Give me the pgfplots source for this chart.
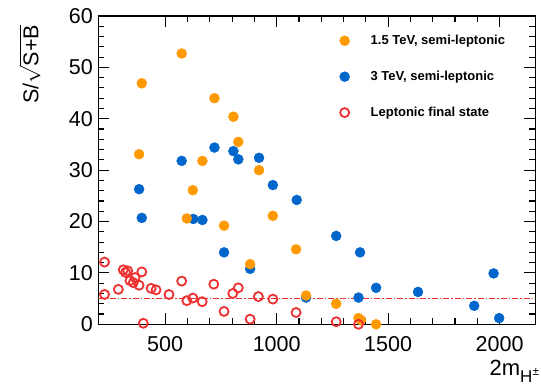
\documentclass[border=0pt]{standalone}
\usepackage{fontspec}
\setmainfont{Liberation Sans}
\usepackage{pgfplots}
\pgfplotsset{compat=1.18}
\definecolor{orng}{RGB}{255,153,0}
\definecolor{blu}{RGB}{0,102,204}
\definecolor{rd}{RGB}{238,48,48}
\begin{document}
\begin{tikzpicture}
\useasboundingbox (-98.3pt,-62.7pt) rectangle (442.7pt,324.3pt);
\begin{axis}[at={(0,0)}, anchor=south west, scale only axis,
  width=437pt, height=308.3pt,
  xmin=200, xmax=2160, ymin=0, ymax=60,
  xtick={500,1000,1500,2000}, minor x tick num=4,
  ytick={0,10,...,60}, minor y tick num=4,
  tick align=inside, major tick length=11pt, minor tick length=6pt,
  axis line style={line width=1.4pt}, every tick/.style={black, line width=1.1pt},
  /pgf/number format/assume math mode=true,
  /pgf/number format/1000 sep={},
  tick label style={font=\fontsize{21.5}{21.5}\selectfont},
  x tick label style={yshift=-10pt, inner sep=2pt},
  y tick label style={xshift=-2pt},
  xlabel={2m\textsubscript{\fontsize{17}{17}\selectfont H\textsuperscript{\fontsize{12}{12}\selectfont ±}}},
  xlabel style={at={(axis description cs:1,0)}, anchor=north east, font=\fontsize{22}{24}\selectfont, xshift=5pt, yshift=-36pt, inner sep=0pt},
  ylabel={S/$\sqrt{\mbox{S+B}}$},
  ylabel style={at={(axis description cs:-0.124,0.983)}, anchor=south east, font=\fontsize{21.5}{24}\selectfont},
  legend style={draw=none, fill=none, font=\bfseries\fontsize{13}{15}\selectfont,
    at={(axis description cs:0.545,0.951)}, anchor=north west, row sep=21pt,
    /tikz/every odd column/.append style={column sep=19pt}},
  legend cell align=left,
]
\addlegendimage{only marks, mark=*, mark size=5pt, color=orng}
\addlegendentry{1.5 TeV, semi-leptonic}
\addlegendimage{only marks, mark=*, mark size=5pt, color=blu}
\addlegendentry{3 TeV, semi-leptonic}
\addlegendimage{only marks, mark=o, mark size=4.5pt, color=rd, line width=1.8pt}
\addlegendentry{Leptonic final state}

\addplot[forget plot, rd, line width=1.3pt, dash pattern=on 6pt off 2pt on 1.5pt off 2pt] coordinates {(200,5) (2160,5)};

\addplot[forget plot, only marks, mark=*, mark size=5pt, color=blu] coordinates {
(383,26.3)(395,20.7)(574,31.8)(626,20.5)(667,20.3)(721,34.4)(764,14.0)(806,33.7)(828,32.1)(881,10.8)(921,32.4)(983,27.1)(1090,24.2)(1132,5.2)(1267,17.2)(1367,5.2)(1374,14.0)(1446,7.1)(1634,6.3)(1886,3.6)(1973,9.9)(1998,1.2)
};
\addplot[forget plot, only marks, mark=*, mark size=5pt, color=orng] coordinates {
(383,33.1)(395,46.9)(574,52.7)(597,20.6)(624,26.1)(667,31.8)(721,44.0)(764,19.2)(806,40.4)(828,35.5)(881,11.7)(921,30.0)(983,21.1)(1087,14.6)(1132,5.6)(1267,4.0)(1367,1.2)(1378,0.8)(1446,0.0)
};
\addplot[forget plot, only marks, mark=o, mark size=4.5pt, color=rd, line width=1.8pt] coordinates {
(228,12.1)(228,5.8)(290,6.8)(312,10.6)(322,10.1)(332,10.4)(342,8.5)(357,8.1)(365,9.1)(383,7.6)(395,10.2)(402,0.2)
(437,7.0)(459,6.7)(517,5.8)(574,8.4)(597,4.6)(624,5.1)(666,4.4)(718,7.8)(764,2.5)(803,6.0)(828,7.1)(881,1.0)(918,5.4)(983,4.9)(1087,2.3)(1267,0.5)(1367,0.0)
};
\end{axis}
\end{tikzpicture}
\end{document}
